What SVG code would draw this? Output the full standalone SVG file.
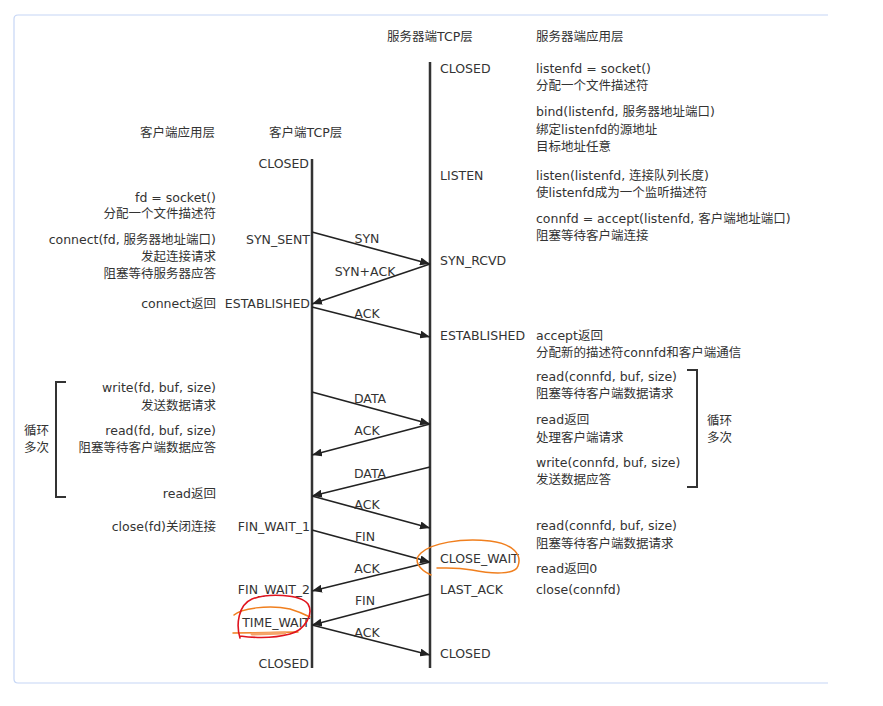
<svg xmlns="http://www.w3.org/2000/svg" width="883" height="706" viewBox="0 0 883 706">
<defs>
<marker id="ah" viewBox="0 0 10 8" refX="10" refY="4" markerWidth="10" markerHeight="8" markerUnits="userSpaceOnUse" orient="auto">
<path d="M0,0 L10,4 L0,8 Z" fill="#222"/>
</marker>
<style>
text{font-family:"DejaVu Sans","Noto Sans CJK SC",sans-serif;font-size:12.5px;fill:#333}
.e{text-anchor:end}
.m{text-anchor:middle}
.lane{stroke:#333;stroke-width:2.5;fill:none}
.msg{stroke:#222;stroke-width:1.6;fill:none;marker-end:url(#ah)}
.br{stroke:#333;stroke-width:2;fill:none}
.frame{stroke:#c6d6f5;stroke-width:1.2;fill:none}
</style>
</defs>
<rect width="883" height="706" fill="#fff"/>
<path class="frame" d="M828,15 L18,15 Q14,15 14,19 L14,679 Q14,683 18,683 L828,683"/>

<g id="headers">
<text x="387" y="41">服务器端TCP层</text>
<text x="536" y="41">服务器端应用层</text>
<text x="140" y="137">客户端应用层</text>
<text x="269" y="137">客户端TCP层</text>
</g>

<g id="lanes">
<line id="client-tcp" class="lane" x1="312" y1="159" x2="312" y2="668"/>
<line id="server-tcp" class="lane" x1="430" y1="62" x2="430" y2="668"/>
</g>

<g id="client-states">
<text class="e" x="309" y="168">CLOSED</text>
<text class="e" x="310" y="244">SYN_SENT</text>
<text class="e" x="310" y="308">ESTABLISHED</text>
<text class="e" x="310" y="531">FIN_WAIT_1</text>
<text class="e" x="310" y="594">FIN_WAIT_2</text>
<text class="e" x="310" y="627">TIME_WAIT</text>
<text class="e" x="309" y="668">CLOSED</text>
</g>

<g id="server-states">
<text x="440" y="73">CLOSED</text>
<text x="440" y="180">LISTEN</text>
<text x="440" y="265">SYN_RCVD</text>
<text x="440" y="340">ESTABLISHED</text>
<text x="440" y="563">CLOSE_WAIT</text>
<text x="440" y="594">LAST_ACK</text>
<text x="440" y="658">CLOSED</text>
</g>

<g id="client-app">
<text class="e" x="216" y="202">fd = socket()</text>
<text class="e" x="216" y="218">分配一个文件描述符</text>
<text class="e" x="216" y="244">connect(fd, 服务器地址端口)</text>
<text class="e" x="216" y="261">发起连接请求</text>
<text class="e" x="216" y="278">阻塞等待服务器应答</text>
<text class="e" x="216" y="308">connect返回</text>
<text class="e" x="216" y="392">write(fd, buf, size)</text>
<text class="e" x="216" y="410">发送数据请求</text>
<text class="e" x="216" y="435">read(fd, buf, size)</text>
<text class="e" x="216" y="452">阻塞等待客户端数据应答</text>
<text class="e" x="216" y="498">read返回</text>
<text class="e" x="216" y="531">close(fd)关闭连接</text>
</g>

<g id="client-loop">
<path class="br" d="M66,382 L56,382 L56,497 L66,497"/>
<text x="24" y="435">循环</text>
<text x="24" y="452">多次</text>
</g>

<g id="server-app">
<text x="536" y="73">listenfd = socket()</text>
<text x="536" y="90">分配一个文件描述符</text>
<text x="536" y="116">bind(listenfd, 服务器地址端口)</text>
<text x="536" y="134">绑定listenfd的源地址</text>
<text x="536" y="151">目标地址任意</text>
<text x="536" y="180">listen(listenfd, 连接队列长度)</text>
<text x="536" y="197">使listenfd成为一个监听描述符</text>
<text x="536" y="223">connfd = accept(listenfd, 客户端地址端口)</text>
<text x="536" y="240">阻塞等待客户端连接</text>
<text x="536" y="340">accept返回</text>
<text x="536" y="357">分配新的描述符connfd和客户端通信</text>
<text x="536" y="381">read(connfd, buf, size)</text>
<text x="536" y="398">阻塞等待客户端数据请求</text>
<text x="536" y="424">read返回</text>
<text x="536" y="442">处理客户端请求</text>
<text x="536" y="467">write(connfd, buf, size)</text>
<text x="536" y="484">发送数据应答</text>
<text x="536" y="530">read(connfd, buf, size)</text>
<text x="536" y="548">阻塞等待客户端数据请求</text>
<text x="536" y="573">read返回0</text>
<text x="536" y="594">close(connfd)</text>
</g>

<g id="server-loop">
<path class="br" d="M687,370 L697,370 L697,487 L687,487"/>
<text x="707" y="425">循环</text>
<text x="707" y="442">多次</text>
</g>

<g id="connectors">
<line class="msg" x1="312" y1="232" x2="430" y2="264"/>
<line class="msg" x1="430" y1="264" x2="312" y2="304"/>
<line class="msg" x1="312" y1="307" x2="430" y2="337"/>
<line class="msg" x1="312" y1="392" x2="430" y2="424"/>
<line class="msg" x1="430" y1="424" x2="312" y2="455"/>
<line class="msg" x1="430" y1="467" x2="312" y2="496"/>
<line class="msg" x1="312" y1="496" x2="430" y2="528"/>
<line class="msg" x1="312" y1="530" x2="430" y2="562"/>
<line class="msg" x1="430" y1="562" x2="312" y2="591"/>
<line class="msg" x1="430" y1="594" x2="312" y2="625"/>
<line class="msg" x1="312" y1="625" x2="430" y2="655"/>
<text class="m" x="367" y="243">SYN</text>
<text class="m" x="365" y="276">SYN+ACK</text>
<text class="m" x="367" y="318">ACK</text>
<text class="m" x="370" y="403">DATA</text>
<text class="m" x="367" y="435">ACK</text>
<text class="m" x="370" y="478">DATA</text>
<text class="m" x="367" y="509">ACK</text>
<text class="m" x="365" y="541">FIN</text>
<text class="m" x="367" y="573">ACK</text>
<text class="m" x="365" y="605">FIN</text>
<text class="m" x="367" y="637">ACK</text>
</g>

<g id="annotations" fill="none" stroke-linecap="round">
<path stroke="#f07f1e" stroke-width="1.5" d="M431,575 C420,570 412,561 421,553 C432,543 460,538 490,541 C514,544 522,555 518,566 C515,575 492,574 472,570 C456,567 446,568 437,568"/>
<path stroke="#f07f1e" stroke-width="1.5" d="M234,615 C240,609 268,604 290,609 C300,612 306,615 310,617"/>
<path stroke="#f07f1e" stroke-width="1.5" d="M233,633 L298,632"/>
<path stroke="#f5a46a" stroke-width="3" d="M252,634 L285,633"/>
<path stroke="#e0141e" stroke-width="1.6" d="M240,638 C236,625 238,605 252,599 C268,593 300,594 308,604 C314,614 305,630 290,634 C275,638 255,638 240,636"/>
</g>
</svg>
